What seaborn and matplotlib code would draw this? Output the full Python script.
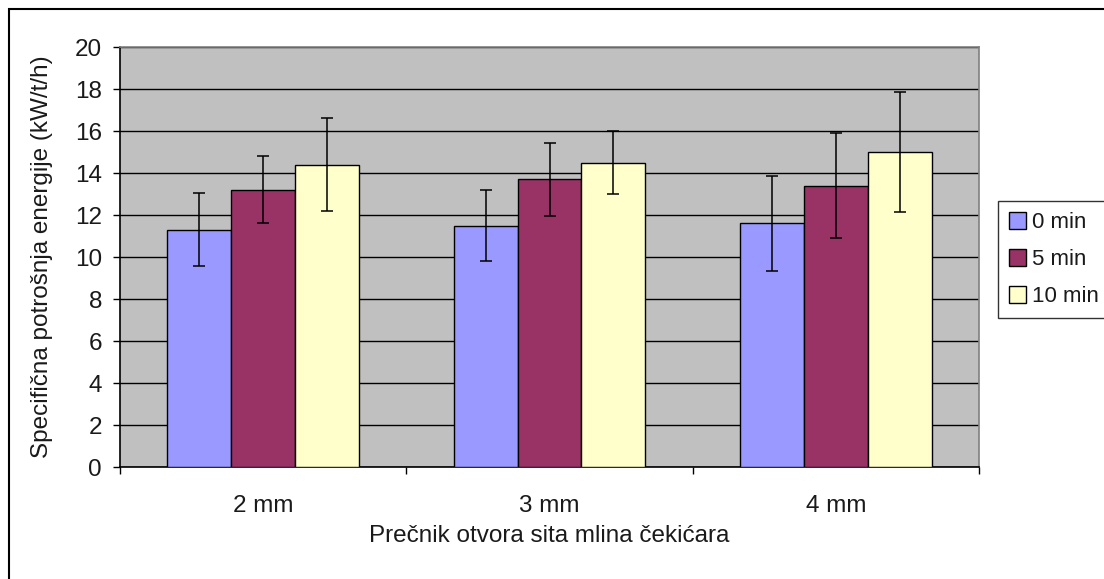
import pandas as pd
import matplotlib
matplotlib.use("Agg")
import matplotlib.pyplot as plt
from matplotlib.patches import Rectangle
import seaborn as sns

# data
sizes = ["2 mm", "3 mm", "4 mm"]
times = ["0 min", "5 min", "10 min"]
energy_0 = [11.3, 11.5, 11.6]
energy_5 = [13.2, 13.7, 13.4]
energy_10 = [14.4, 14.5, 15.0]
err_0 = [1.75, 1.7, 2.25]
err_5 = [1.6, 1.75, 2.5]
err_10 = [2.2, 1.5, 2.85]

colors = ["#9999FF", "#993366", "#FFFFCC"]

rows = []
for t, vals, errs in zip(times, [energy_0, energy_5, energy_10], [err_0, err_5, err_10]):
    for s, v, e in zip(sizes, vals, errs):
        rows.append([s, t, v, e])
df = pd.DataFrame(rows, columns=["size", "time", "energy", "err"])

sns.set_style("white")
plt.rcParams["font.family"] = ["Liberation Sans", "DejaVu Sans"]
plt.rcParams["font.size"] = 17
plt.rcParams["text.color"] = "#1a1a1a"

fig = plt.figure(figsize=(11.04, 5.79), dpi=100)
ax = fig.add_axes([120 / 1104, 1 - 467 / 579, (979 - 120) / 1104, (467 - 47) / 579])
ax.set_facecolor("#C0C0C0")

sns.barplot(data=df, x="size", y="energy", hue="time", order=sizes, hue_order=times,
            palette=colors, errorbar=None, width=0.67, edgecolor="black",
            linewidth=1.0, saturation=1, ax=ax, zorder=3)

# error bars drawn on the bar centres
for cont, t in zip(ax.containers, times):
    sub = df[df["time"] == t].set_index("size").loc[sizes]
    xs = [p.get_x() + p.get_width() / 2 for p in cont.patches]
    hs = [p.get_height() for p in cont.patches]
    ax.errorbar(xs, hs, yerr=sub["err"].values, fmt="none", ecolor="black",
                elinewidth=1.1, capsize=4.5, capthick=1.1, zorder=4)

ax.set_ylim(0, 20)
ax.set_xlim(-0.5, 2.5)
ax.set_yticks(range(0, 21, 2))
ax.yaxis.grid(True, color="black", linewidth=1.0, zorder=1)
ax.set_axisbelow(True)

# category boundaries as major ticks, labels on minor ticks
ax.set_xticks([-0.5, 0.5, 1.5, 2.5])
ax.set_xticklabels([])
ax.set_xticks([0, 1, 2], minor=True)
ax.set_xticklabels(sizes, minor=True)
ax.tick_params(axis="x", which="major", direction="out", length=5, width=1, color="black", bottom=True)
ax.tick_params(axis="x", which="minor", length=0, pad=20, labelsize=17.5, labelcolor="#1a1a1a")
ax.tick_params(axis="y", direction="out", length=5, width=1, color="black", left=True, pad=8,
               labelsize=17.5, labelcolor="#1a1a1a")

for side in ["left", "bottom"]:
    ax.spines[side].set_color("black")
    ax.spines[side].set_linewidth(1.2)
for side in ["top", "right"]:
    ax.spines[side].set_visible(True)
    ax.spines[side].set_color("#808080")
    ax.spines[side].set_linewidth(1.2)

ax.set_xlabel("Prečnik otvora sita mlina čekićara", fontsize=17.5, labelpad=6, color="#1a1a1a")
ax.set_ylabel("Specifična potrošnja energije (kW/t/h)", fontsize=17.5, labelpad=16, color="#1a1a1a")

ax.legend_.remove()
handles, labels = ax.get_legend_handles_labels()
leg = fig.legend(handles, labels, loc="upper left", bbox_to_anchor=(998 / 1104, 1 - 201 / 579),
                 frameon=True, fancybox=False, fontsize=16, handlelength=0.75, handleheight=0.75,
                 handletextpad=0.3, labelspacing=0.72, borderpad=0.5, borderaxespad=0)
leg.get_frame().set_edgecolor("black")
leg.get_frame().set_linewidth(1.0)

# outer chart border (cropped on right and bottom)
fig.add_artist(Rectangle((9 / 1104, -0.1), 1.2, 1.1 - 9 / 579, transform=fig.transFigure,
                         fill=False, edgecolor="black", linewidth=1.5))

fig.savefig("out.png", dpi=100)
